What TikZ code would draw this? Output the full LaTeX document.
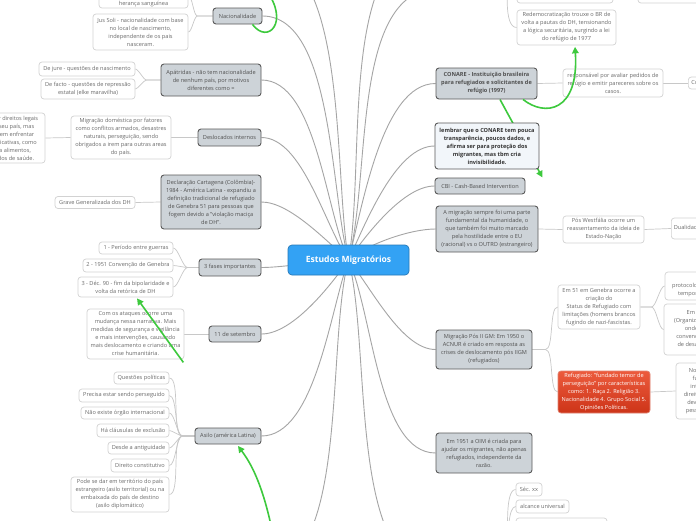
\documentclass[tikz,border=0pt]{standalone}
\usepackage{fontspec}
\setmainfont{Open Sans}
\usetikzlibrary{calc,arrows.meta}
\definecolor{gfill}{HTML}{CDD3D8}
\definecolor{gborder}{HTML}{5A5A5A}
\definecolor{lborder}{HTML}{D2D2D2}
\definecolor{ltext}{HTML}{6A6A6A}
\definecolor{gtext}{HTML}{505050}
\definecolor{rootblue}{HTML}{33A2F4}
\definecolor{linkgray}{HTML}{A5A5A5}
\definecolor{subgray}{HTML}{C8C8C8}
\definecolor{relgreen}{HTML}{3DC93D}
\definecolor{redtop}{HTML}{EC5B3D}
\definecolor{redbot}{HTML}{CD3418}
\definecolor{lightbox}{HTML}{F2F6FA}
\pgfdeclarelayer{bg}
\pgfsetlayers{bg,main}
\begin{document}
\begin{tikzpicture}[x=1pt,y=1pt,
  base/.style={rounded corners=3pt, align=center, inner xsep=1pt, inner ysep=1pt, font=\fontsize{5.6}{8}\selectfont},
  topic/.style={base, fill=gfill, draw=gborder, line width=0.9pt, text=gtext},
  leaf/.style={base, fill=white, draw=lborder, line width=0.7pt, text=ltext},
  boldtopic/.style={topic, font=\fontsize{5.6}{8}\selectfont\bfseries},
  notebox/.style={base, fill=lightbox, draw=gborder, line width=0.9pt, text=black!80, font=\fontsize{5.6}{8}\selectfont\bfseries},
  redbox/.style={base, top color=redtop, bottom color=redbot, draw=redbot!60!white, line width=0.7pt, text=white},
  rootbox/.style={rounded corners=4pt, fill=rootblue, draw=rootblue!75!black, line width=0.7pt, text=white, font=\fontsize{8.6}{10}\selectfont\bfseries},
  bx/.style 2 args={minimum width=#1pt, minimum height=#2pt},
  rootlink/.style={draw=linkgray, line width=0.9pt},
  sub/.style={draw=subgray, line width=0.7pt},
  rel/.style={draw=relgreen, line width=1.6pt, -{Triangle[length=6.5pt,width=6.5pt]}},
  relline/.style={draw=relgreen, line width=1.6pt}
]
\useasboundingbox (0,0) rectangle (696,-520);
\clip (0,0) rectangle (696,-520);

% ---------- root ----------
\node[rootbox, bx={121}{30}] (root) at (348.5,-260) {Estudos Migratórios};

% ---------- left topics ----------
\node[topic, bx={49}{16}] (nac) at (237.5,-16) {Nacionalidade};
\node[topic, bx={100}{32}] (apa) at (211,-80) {Apátridas - não tem nacionalidade\\de nenhum país, por motivos\\diferentes como =};
\node[topic, bx={63}{17}] (desl) at (229.5,-137.5) {Deslocados internos};
\node[topic, bx={100}{54}] (decl) at (211,-202) {Declaração Cartagena (Colômbia)-\\1984 - América Latina - expandiu a\\definição tradicional de refugiado\\de Genebra 51 para pessoas que\\fogem devido a "violação maciça\\de DH".};
\node[topic, bx={62}{17}] (fases) at (230,-267.5) {3 fases importantes};
\node[topic, bx={52}{16}] (sete) at (235,-334) {11 de setembro};
\node[topic, bx={66}{16}] (asilo) at (228,-436) {Asilo (américa Latina)};

% ---------- left leaves ----------
\node[leaf, bx={89}{24}] (her) at (143.5,4) {Jus Sanguinis - nacionalidade\\baseada na\\herança sanguínea};
\node[leaf, bx={95}{36}] (jus) at (140.5,-32) {Jus Soli - nacionalidade com base\\no local de nascimento,\\independente de os pais\\nasceram.};
\node[leaf, bx={96}{14}] (dejure) at (87,-69) {De jure - questões de nascimento};
\node[leaf, bx={94}{20}] (defacto) at (88,-89) {De facto - questões de repressão\\estatal (elke maravilha)};
\node[leaf, bx={100}{43}] (domest) at (121,-137.5) {Migração doméstica por fatores\\como conflitos armados, desastres\\naturais, perseguição, sendo\\obrigados a irem para outras areas\\do país.};
\node[leaf, bx={100}{50}] (cutl) at (-5,-138) {Podem não perder direitos legais\\por estarem em seu país, mas\\ainda assim, podem enfrentar\\dificuldades significativas, como\\falta de acesso a alimentos,\\moradia e cuidados de saúde.};
\node[leaf, bx={80}{12}] (grave) at (95,-202.5) {Grave Generalizada dos DH};
\node[leaf, bx={74}{12}] (f1) at (136,-248) {1 - Período entre guerras};
\node[leaf, bx={90}{13}] (f2) at (128,-265.5) {2 - 1951 Convenção de Genebra};
\node[leaf, bx={95}{20}] (f3) at (125.5,-287) {3 - Déc. 90 - fim da bipolaridade e\\volta da retórica de DH};
\node[leaf, bx={97}{50}] (ataq) at (135.5,-334) {Com os ataques ocorre uma\\mudança nessa narrativa. Mais\\medidas de segurança e vigilância\\e mais intervenções, causando\\mais deslocamento e criando uma\\crise humanitária.};
\node[leaf, bx={55}{12}] (a1) at (141.5,-378) {Questões políticas};
\node[leaf, bx={90}{13}] (a2) at (124,-395.5) {Precisa estar sendo perseguido};
\node[leaf, bx={88}{12}] (a3) at (125,-413) {Não existe órgão internacional};
\node[leaf, bx={72}{13}] (a4) at (133,-430.5) {Há cláusulas de exclusão};
\node[leaf, bx={61}{12}] (a5) at (138.5,-448) {Desde a antiguidade};
\node[leaf, bx={58}{13}] (a6) at (140,-465.5) {Direito constitutivo};
\node[leaf, bx={98}{35}] (a7) at (120,-494.5) {Pode se dar em território do país\\estrangeiro (asilo territorial) ou na\\embaixada do país de destino\\(asilo diplomático)};

% ---------- right side ----------
\node[leaf, bx={96}{28}] (tl1) at (565,11) {};
\node[leaf, bx={84}{28}] (tl2) at (680,11) {};
\node[leaf, bx={99}{35}] (redem) at (566.5,-27.5) {Redemocratização trouxe o BR de\\volta a pautas do DH, tensionando\\a lógica securitária, surgindo a lei\\do refúgio de 1977};
\node[boldtopic, bx={101}{31}] (conare) at (486.5,-83.5) {CONARE - Instituição brasileira\\para refugiados e solicitantes de\\refúgio (1997)};
\node[leaf, bx={100}{28}] (resp) at (613,-83) {responsável por avaliar pedidos de\\refúgio e emitir pareceres sobre os\\casos.};
\node[leaf, anchor=west, minimum height=12pt, inner xsep=3pt] (cpart) at (688,-83) {Comitê Nacional para os Refugiados};
\node[notebox, bx={104}{46}] (lemb) at (487,-146) {lembrar que o CONARE tem pouca\\transparência, poucos dados, e\\afirma ser para proteção dos\\migrantes, mas tbm cria\\invisibilidade.};
\node[topic, bx={90}{16}] (cbi) at (480,-186) {CBI - Cash-Based Intervention};
\node[topic, bx={102}{46}] (migr) at (487,-229) {A migração sempre foi uma parte\\fundamental da humanidade, o\\que também foi muito marcado\\pela hostilidade entre o EU\\(racional) vs o OUTRO (estrangeiro)};
\node[leaf, bx={81}{27}] (west) at (603.5,-229.5) {Pós Westfália ocorre um\\reassentamento da ideia de\\Estado-Nação};
\node[leaf, anchor=west, minimum height=21pt, inner xsep=2.5pt] (dual) at (671,-228.5) {Dualidade entre nacionais e estrangeiros};
\node[topic, bx={96}{39}] (pos2) at (484,-349.5) {Migração Pós II GM: Em 1950 o\\ACNUR é criado em resposta as\\crises de deslocamento pós IIGM\\(refugiados)};
\node[leaf, bx={82}{44}] (g51) at (599,-307) {Em 51 em Genebra ocorre a\\criação do\\Status de Refugiado com\\limitações (homens brancos\\fugindo de nazi-fascistas.};
\node[leaf, bx={90}{28}] (e1) at (710,-286) {Em 1967, o\\protocolo retira as limitações\\temporais e geográficas.};
\node[leaf, bx={86}{51}] (e2) at (707,-329.5) {Em 1969 a OUA\\(Organização da Unidade\\onde se amplia a\\convenção para vítimas\\de desastres e guerras};
\node[redbox, bx={92}{42}] (red) at (604,-392) {Refugiado: "fundado temor de\\perseguição" por características\\como: 1. Raça 2. Religião 3.\\Nacionalidade 4. Grupo Social 5.\\Opiniões Políticas.};
\node[leaf, bx={74}{56}] (nonr) at (713,-391) {Non-refoulement -\\fundamento do\\internacional dos\\direitos humanos, não\\devolver refugiados\\pessoas perseguidas};
\node[topic, bx={96}{40}] (oim) at (484,-453) {Em 1951 a OIM é criada para\\ajudar os migrantes, não apenas\\refugiados, independente da\\razão.};
\node[leaf, bx={26}{13}] (sec) at (529,-489.5) {Séc. xx};
\node[leaf, bx={53}{13}] (alc) at (542.5,-506.5) {alcance universal};
\node[leaf, bx={91}{22}] (b3) at (561.5,-529) {};

% ---------- off-frame ends ----------
\coordinate (tA) at (262,45);
\coordinate (tC) at (440,12);
\coordinate (tD) at (440,60);
\coordinate (bA) at (262,-570);
\coordinate (bB) at (436,-570);
\coordinate (pR) at (508,30);
\coordinate (pB) at (508,-545);
\coordinate (gB) at (272,-530);

\begin{pgfonlayer}{bg}
\fill[white] (0,0) rectangle (696,-520);
\clip (0,0) rectangle (696,-520);
% root links
\draw[rootlink] (root.center) to[out=105,in=0,looseness=0.7] (nac.east);
\draw[rootlink] (root.center) to[out=115,in=0,looseness=0.7] (apa.east);
\draw[rootlink] (root.center) to[out=125,in=0,looseness=0.7] (desl.east);
\draw[rootlink] (root.center) to[out=140,in=0,looseness=0.7] (decl.east);
\draw[rootlink] (root.center) to[out=180,in=0,looseness=0.7] (fases.east);
\draw[rootlink] (root.center) to[out=235,in=0,looseness=0.7] (sete.east);
\draw[rootlink] (root.center) to[out=250,in=0,looseness=0.7] (asilo.east);
\draw[rootlink] (root.center) to[out=100,in=0,looseness=0.7] (tA);
\draw[rootlink] (root.center) to[out=255,in=0,looseness=0.7] (bA);
\draw[rootlink] (root.center) to[out=75,in=180,looseness=0.8] (tC);
\draw[rootlink] (root.center) to[out=80,in=180,looseness=0.8] (tD);
\draw[rootlink] (root.center) to[out=75,in=180,looseness=0.7] (conare.west);
\draw[rootlink] (root.center) to[out=65,in=180,looseness=0.7] (lemb.west);
\draw[rootlink] (root.center) to[out=55,in=180,looseness=0.7] (cbi.west);
\draw[rootlink] (root.center) to[out=40,in=180,looseness=0.7] (migr.west);
\draw[rootlink] (root.center) to[out=-50,in=180,looseness=0.7] (pos2.west);
\draw[rootlink] (root.center) to[out=-65,in=180,looseness=0.7] (oim.west);
\draw[rootlink] (root.center) to[out=-75,in=180,looseness=0.7] (bB);
% sub links left
\draw[sub] (nac.west) -- ++(-15,0) to[out=180,in=0,looseness=0.5] (her.east);
\draw[sub] (nac.west) -- ++(-15,0) to[out=180,in=0,looseness=0.5] (jus.east);
\draw[sub] (apa.west) -- ++(-14,0) to[out=180,in=0,looseness=0.5] (dejure.east);
\draw[sub] (apa.west) -- ++(-14,0) to[out=180,in=0,looseness=0.5] (defacto.east);
\draw[sub] (desl.west) -- (domest.east);
\draw[sub] (domest.west) -- (cutl.east);
\draw[sub] (decl.west) -- (grave.east);
\foreach \c in {f1,f2,f3}
  \draw[sub] (fases.west) -- ++(-11,0) to[out=180,in=0,looseness=0.5] (\c.east);
\draw[sub] (sete.west) -- (ataq.east);
\foreach \c in {a1,a2,a3,a4,a5,a6,a7}
  \draw[sub] (asilo.west) -- ++(-12,0) to[out=180,in=0,looseness=0.5] (\c.east);
% sub links right
\draw[sub] (conare.east) -- (resp.west);
\draw[sub] (resp.east) -- (cpart.west);
\draw[sub] (pR) to[out=-90,in=180,looseness=0.6] (redem.west);
\draw[sub] (pR) to[out=-90,in=180,looseness=0.6] (tl1.west);
\draw[sub] (migr.east) -- (west.west);
\draw[sub] (west.east) -- (dual.west);
\draw[sub] (pos2.east) -- ++(13,0) to[out=0,in=180,looseness=0.5] (g51.west);
\draw[sub] (pos2.east) -- ++(13,0) to[out=0,in=180,looseness=0.5] (red.west);
\draw[sub] (g51.east) -- ++(11,0) to[out=0,in=180,looseness=0.5] (e1.west);
\draw[sub] (g51.east) -- ++(11,0) to[out=0,in=180,looseness=0.5] (e2.west);
\draw[sub] (red.east) -- (nonr.west);
\foreach \c in {sec,alc,b3}
  \draw[sub] (pB) to[out=90,in=180,looseness=0.5] (\c.west);
% relation behind the note box
\draw[rel] ($(conare.south)+(13.5,0)$) -- ($(lemb.south east)+(3,-8)$);
\end{pgfonlayer}

% ---------- green relations ----------
\draw[relline] ($(nac.south east)+(-10,0)$) .. controls (268,-45) and (290,-22) .. (266,10);
\draw[rel] ($(ataq.south east)+(-1,-3)$) -- ($(f3.south)+(11.5,-1)$);
\draw[rel] (gB) .. controls (262,-482) and (250,-462) .. ($(asilo.south)+(10,-1.5)$);
\draw[rel] ($(conare.south)+(36.5,0)$) .. controls (545,-117) and (579,-112) .. ($(redem.south)+(8.5,-1.5)$);
\end{tikzpicture}
\end{document}
